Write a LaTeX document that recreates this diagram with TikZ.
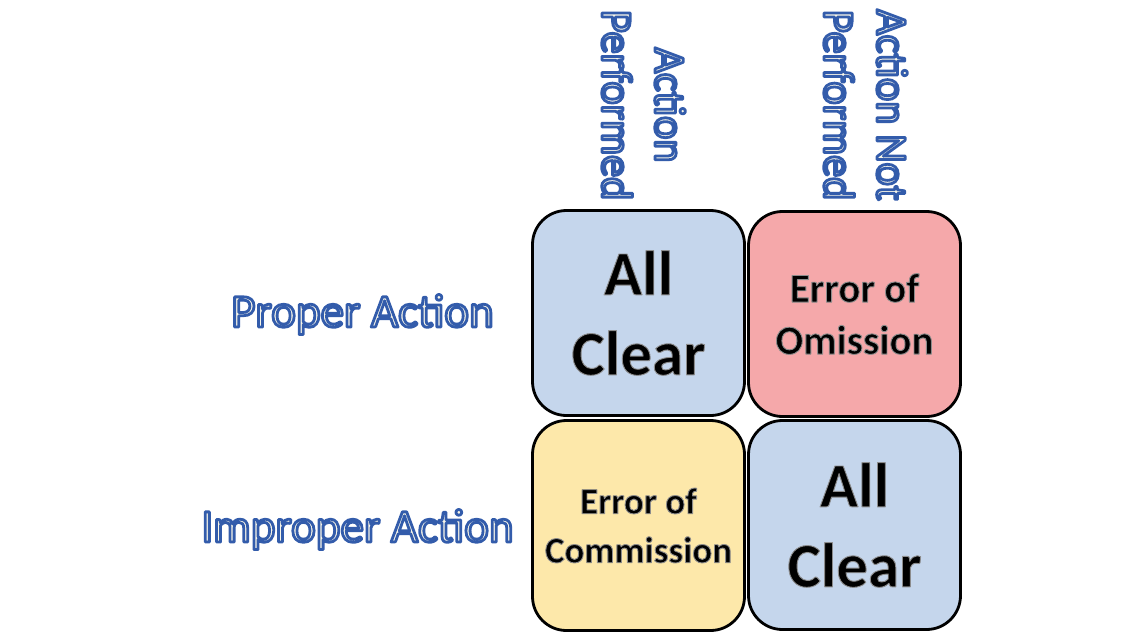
\documentclass[tikz,border=0pt]{standalone}
\usepackage{fontspec}
\setmainfont{Carlito}
\definecolor{boxblue}{RGB}{197,214,236}
\definecolor{boxpink}{RGB}{245,168,170}
\definecolor{boxyellow}{RGB}{253,232,170}
\definecolor{lblfill}{RGB}{248,246,232}
\newcommand{\lbltext}[1]{{\color{lblfill}\special{pdf:literal direct 2 Tr 2.8 w 1 j 0.20 0.36 0.67 RG}#1\special{pdf:literal direct 0 Tr}}}
\newcommand{\boxtext}[1]{{\color{black}\special{pdf:literal direct 2 Tr 0.9 w 1 j 0.55 0.55 0.55 RG}#1\special{pdf:literal direct 0 Tr}}}
\tikzset{
  cell/.style={draw=black, line width=2.8pt, rounded corners=34pt, minimum width=212pt, align=center, inner sep=0pt},
  rowlabel/.style={font=\fontsize{47}{56}\selectfont, inner sep=0pt},
  collabel/.style={font=\fontsize{44}{53}\selectfont, rotate=-90, align=center, inner sep=0pt},
  bigtext/.style={font=\bfseries\fontsize{63}{80}\selectfont},
  midtext/.style={font=\bfseries\fontsize{41}{52}\selectfont},
  smalltext/.style={font=\bfseries\fontsize{37}{49}\selectfont}
}
\begin{document}
\begin{tikzpicture}[x=1pt,y=-1pt]
\useasboundingbox (0,0) rectangle (1143,635);
\fill[white] (0,0) rectangle (1143,635);
% cells
\node[cell, fill=boxblue, minimum height=205pt, bigtext] (tl) at (638.5,313) {\boxtext{All}\\\boxtext{Clear}};
\node[cell, fill=boxpink, minimum height=205pt, midtext] (tr) at (854.5,314) {\boxtext{Error of}\\\boxtext{Omission}};
\node[cell, fill=boxyellow, minimum height=210pt, smalltext] (bl) at (638.5,525.5) {\boxtext{Error of}\\\boxtext{Commission}};
\node[cell, fill=boxblue, minimum height=209pt, bigtext] (br) at (854.5,525) {\boxtext{All}\\\boxtext{Clear}};
% row labels
\node[rowlabel, anchor=base] (proper) at (362.5,327) {\lbltext{Proper Action}};
\node[rowlabel, anchor=base] (improper) at (357.5,542) {\lbltext{Improper Action}};
% column labels
\node[collabel] (performed) at (643.5,105) {\lbltext{Action}\\\lbltext{Performed}};
\node[collabel] (notperformed) at (865.5,105) {\lbltext{Action Not}\\\lbltext{Performed}};
\end{tikzpicture}
\end{document}
